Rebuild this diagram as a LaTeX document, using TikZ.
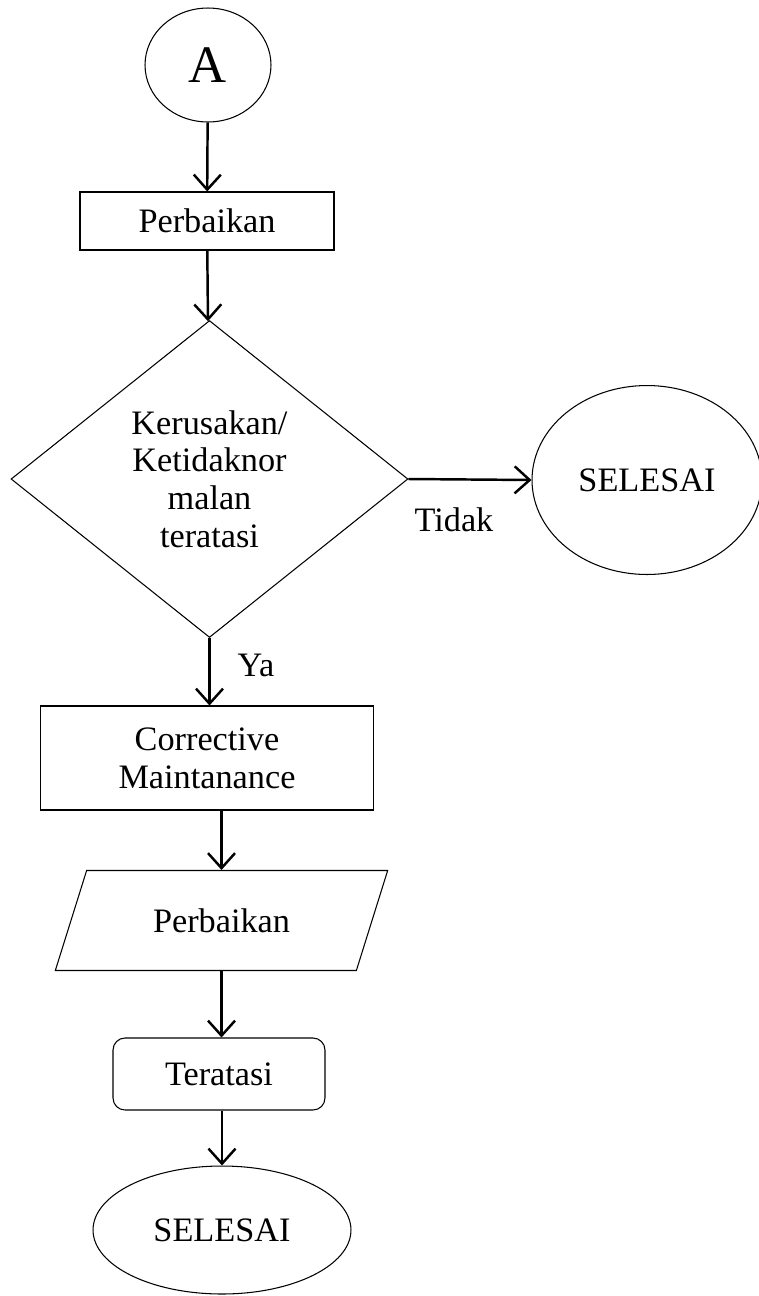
\documentclass[tikz,border=0pt]{standalone}
\usepackage{fontspec}
\setmainfont{Liberation Serif}
\usetikzlibrary{arrows.meta,shapes.geometric}

\begin{document}
\begin{tikzpicture}[
    x=0.02cm, y=-0.02cm,
    font=\fontsize{19.5}{21.5}\selectfont,
    base/.style={
      draw,
      line width=0.6pt,
      align=center,
      inner sep=0pt
    },
    terminal/.style={base, ellipse},
    process/.style={base, rectangle},
    decision/.style={base, diamond},
    io/.style={
      base,
      trapezium,
      trapezium left angle=56.6,
      trapezium right angle=123.4,
      trapezium stretches=true
    },
    arrow/.style={-{Straight Barb[length=3mm, width=5.4mm]}, line width=1.4pt},
    lbl/.style={inner sep=0pt}
  ]
    \useasboundingbox (0,0) rectangle (759,1296);

    \node[terminal, minimum width=2.52cm, minimum height=2.28cm,
      font=\fontsize{30}{32}\selectfont] (start) at (208,65) {A};
    \node[process, minimum width=5.08cm, minimum height=1.16cm]
      (repair) at (207,221) {Perbaikan};
    \node[decision, minimum width=7.94cm, minimum height=6.34cm]
      (check) at (209.5,479) {Kerusakan/\\Ketidaknor\\malan\\teratasi};
    \node[terminal, minimum width=4.6cm, minimum height=3.78cm]
      (end-right) at (647,480) {SELESAI};
    \node[process, minimum width=6.68cm, minimum height=2.08cm]
      (corrective) at (207,758) {Corrective\\Maintanance};
    \node[io, minimum width=6.66cm, minimum height=2cm]
      (repair-io) at (221.5,920.5) {Perbaikan};
    \node[process, rounded corners=0.24cm, minimum width=4.24cm,
      minimum height=1.44cm] (solved) at (219,1074) {Teratasi};
    \node[terminal, minimum width=5.16cm, minimum height=2.56cm]
      (end-bottom) at (222,1230) {SELESAI};

    \node[lbl] (no-label) at (454,520) {Tidak};
    \node[lbl] (yes-label) at (256,665) {Ya};

    \draw[arrow] (start) -- (repair);
    \draw[arrow] (repair) -- (check);
    \draw[arrow] (check.east) -- (end-right.west);
    \draw[arrow] (check.south) -- (check.south |- corrective.north);
    \draw[arrow] (corrective.south -| repair-io.north) -- (repair-io.north);
    \draw[arrow] (repair-io.south) -- (repair-io.south |- solved.north);
    \draw[arrow] (solved.south -| end-bottom.north) -- (end-bottom.north);
  \end{tikzpicture}
\end{document}
